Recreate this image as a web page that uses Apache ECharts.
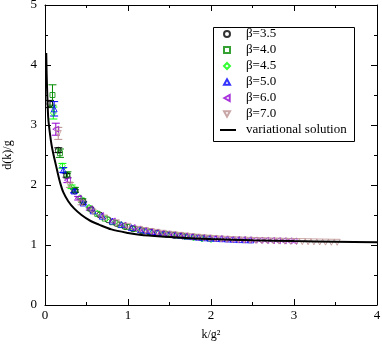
<!DOCTYPE html>
<html>
<head>
<meta charset="utf-8">
<script src="https://cdn.jsdelivr.net/npm/echarts@6/dist/echarts.min.js"></script>
<style>
  html, body { margin: 0; padding: 0; background: #fff; }
  #chart { width: 382px; height: 349px; }
</style>
</head>
<body>
<div id="chart"></div>
<script>
// beta = 3.5
var k35 = [0.06, 0.16, 0.26, 0.36, 0.46, 0.56, 0.66, 0.76, 0.86, 0.96, 1.06, 1.16, 1.26, 1.36, 1.46, 1.56, 1.66];
var d35 = [3.35, 2.58, 2.16, 1.90, 1.72, 1.59, 1.50, 1.42, 1.36, 1.31, 1.27, 1.24, 1.22, 1.20, 1.18, 1.16, 1.15];
var e35 = [0.06, 0.04, 0.03, 0.02];
// beta = 4.0
var k40 = [0.09, 0.18, 0.27, 0.36, 0.45, 0.54, 0.63, 0.72, 0.81, 0.90, 0.99, 1.08, 1.17, 1.26, 1.35, 1.44, 1.53, 1.62, 1.71, 1.80, 1.89, 1.98];
var d40 = [3.50, 2.53, 2.17, 1.92, 1.74, 1.61, 1.52, 1.44, 1.38, 1.34, 1.30, 1.27, 1.24, 1.22, 1.20, 1.18, 1.17, 1.155, 1.14, 1.13, 1.12, 1.11];
var e40 = [0.17, 0.07, 0.05, 0.04, 0.03];
// beta = 4.5
var k45 = [0.10, 0.21, 0.32, 0.42, 0.53, 0.63, 0.74, 0.84, 0.95, 1.05, 1.16, 1.26, 1.37, 1.47, 1.58, 1.68, 1.79, 1.89, 2.00];
var d45 = [3.20, 2.32, 1.97, 1.79, 1.63, 1.53, 1.44, 1.38, 1.32, 1.28, 1.25, 1.22, 1.20, 1.18, 1.16, 1.14, 1.12, 1.10, 1.09];
var e45 = [0.10, 0.04, 0.03];
// beta = 5.0
var k50 = [0.11, 0.22, 0.35, 0.46, 0.58, 0.69, 0.81, 0.92, 1.04, 1.15, 1.22, 1.29, 1.36, 1.43, 1.50, 1.57, 1.64, 1.71, 1.78, 1.85, 1.92, 1.99, 2.06, 2.13, 2.20, 2.27, 2.34, 2.41, 2.48];
var d50 = [3.27, 2.25, 1.90, 1.70, 1.57, 1.48, 1.40, 1.34, 1.29, 1.255, 1.24, 1.225, 1.21, 1.195, 1.185, 1.17, 1.16, 1.15, 1.14, 1.13, 1.12, 1.115, 1.11, 1.105, 1.10, 1.095, 1.09, 1.088, 1.085];
var e50 = [0.12, 0.04, 0.03, 0.02];
// beta = 6.0
var k60 = [0.13, 0.27, 0.40, 0.54, 0.67, 0.81, 0.94, 1.05, 1.12, 1.19, 1.26, 1.33, 1.40, 1.47, 1.54, 1.61, 1.68, 1.75, 1.82, 1.89, 1.96, 2.03, 2.10, 2.17, 2.24, 2.31, 2.38, 2.45, 2.52, 2.59, 2.66, 2.73, 2.80, 2.87, 2.94, 3.00];
var d60 = [2.93, 2.08, 1.78, 1.60, 1.49, 1.40, 1.33, 1.29, 1.265, 1.245, 1.225, 1.21, 1.195, 1.18, 1.17, 1.16, 1.15, 1.14, 1.13, 1.125, 1.115, 1.11, 1.105, 1.10, 1.095, 1.09, 1.088, 1.085, 1.082, 1.08, 1.078, 1.075, 1.072, 1.07, 1.068, 1.066];
var e60 = [0.10, 0.04, 0.03, 0.02];
// beta = 7.0
var k70 = [0.16, 0.30, 0.44, 0.58, 0.72, 0.86, 1.00, 1.14, 1.21, 1.28, 1.35, 1.42, 1.49, 1.56, 1.63, 1.70, 1.77, 1.84, 1.91, 1.98, 2.05, 2.12, 2.19, 2.26, 2.33, 2.40, 2.47, 2.54, 2.61, 2.68, 2.75, 2.82, 2.89, 2.96, 3.03, 3.10, 3.17, 3.24, 3.31, 3.38, 3.45, 3.52];
var d70 = [2.86, 2.00, 1.70, 1.55, 1.45, 1.37, 1.31, 1.26, 1.24, 1.225, 1.21, 1.195, 1.18, 1.17, 1.16, 1.15, 1.14, 1.13, 1.12, 1.115, 1.108, 1.10, 1.095, 1.09, 1.086, 1.082, 1.078, 1.075, 1.072, 1.07, 1.067, 1.065, 1.062, 1.06, 1.058, 1.056, 1.054, 1.052, 1.05, 1.048, 1.046, 1.045];
var e70 = [0.10, 0.04, 0.03];
// variational solution
var kv = [0.015, 0.02, 0.03, 0.04, 0.06, 0.08, 0.10, 0.12, 0.15, 0.18, 0.22, 0.28, 0.35, 0.44, 0.55, 0.65, 0.80, 1.00, 1.14, 1.40, 1.70, 2.00, 2.50, 3.00, 3.50, 4.00];
var dv = [4.20, 3.85, 3.40, 3.10, 2.85, 2.66, 2.52, 2.40, 2.22, 2.05, 1.88, 1.73, 1.61, 1.50, 1.40, 1.34, 1.26, 1.20, 1.17, 1.14, 1.115, 1.10, 1.08, 1.065, 1.055, 1.047];

var xTicks = [0, 1, 2, 3, 4];
var yTicks = [0, 1, 2, 3, 4, 5];

// grace-style open symbols
var triUp = 'path://M5,0L10,9L0,9Z';
var triLeft = 'path://M0,5L9,0L9,10Z';
var triDown = 'path://M0,0L10,0L5,9Z';

var sets = [
    { name: 'β=3.5', k: k35, d: d35, e: e35, color: '#000000', symbol: 'circle' },
    { name: 'β=4.0', k: k40, d: d40, e: e40, color: '#008b00', symbol: 'rect' },
    { name: 'β=4.5', k: k45, d: d45, e: e45, color: '#00ff00', symbol: 'diamond' },
    { name: 'β=5.0', k: k50, d: d50, e: e50, color: '#0000ff', symbol: triUp },
    { name: 'β=6.0', k: k60, d: d60, e: e60, color: '#9400d3', symbol: triLeft },
    { name: 'β=7.0', k: k70, d: d70, e: e70, color: '#bc8f8f', symbol: triDown }
];

var font = '"Liberation Serif", "DejaVu Serif", serif';

function errorBars(color) {
    return function (params, api) {
        var x = api.value(0), y = api.value(1), e = api.value(2);
        var top = api.coord([x, y + e]);
        var bot = api.coord([x, y - e]);
        var w = 4;
        var style = { stroke: color, lineWidth: 1 };
        return {
            type: 'group',
            children: [
                { type: 'line', shape: { x1: top[0], y1: top[1], x2: bot[0], y2: bot[1] }, style: style },
                { type: 'line', shape: { x1: top[0] - w, y1: top[1], x2: top[0] + w, y2: top[1] }, style: style },
                { type: 'line', shape: { x1: bot[0] - w, y1: bot[1], x2: bot[0] + w, y2: bot[1] }, style: style }
            ]
        };
    };
}

var series = [];
sets.forEach(function (s) {
    var pts = [], bars = [];
    for (var i = 0; i < s.k.length; i++) {
        pts.push([s.k[i], s.d[i]]);
        if (i < s.e.length) bars.push([s.k[i], s.d[i], s.e[i]]);
    }
    series.push({
        name: s.name + ' err',
        type: 'custom',
        renderItem: errorBars(s.color),
        data: bars,
        silent: true,
        z: 2
    });
    series.push({
        name: s.name,
        type: 'scatter',
        symbol: s.symbol,
        symbolSize: s.symbol === 'rect' ? 5 : 6,
        itemStyle: { color: 'rgba(255,255,255,0)', borderColor: s.color, borderWidth: 1 },
        data: pts,
        z: 3
    });
});

var line = [];
for (var j = 0; j < kv.length; j++) line.push([kv[j], dv[j]]);
series.push({
    name: 'variational solution',
    type: 'line',
    data: line,
    symbol: 'none',
    smooth: 0.3,
    lineStyle: { color: '#000', width: 2 },
    itemStyle: { color: '#000' },
    z: 4
});

var legendText = { fontFamily: font, fontSize: 13, color: '#000', lineHeight: 16 };

function sideAxis(pos) {
    return {
        type: 'value',
        position: pos,
        min: 0,
        max: pos === 'top' ? xTicks[xTicks.length - 1] : yTicks[yTicks.length - 1],
        interval: 1,
        axisLine: { show: true, onZero: false, lineStyle: { color: '#000', width: 1 } },
        axisTick: { inside: true, length: 6, lineStyle: { color: '#000' } },
        minorTick: { show: true, splitNumber: 2, length: 3, lineStyle: { color: '#000' } },
        axisLabel: { show: false },
        splitLine: { show: false }
    };
}

var chart = echarts.init(document.getElementById('chart'));
chart.setOption({
    animation: false,
    backgroundColor: '#fff',
    textStyle: { fontFamily: font },
    grid: { left: 45, right: 5, top: 5, bottom: 44, containLabel: false, outerBoundsMode: 'none' },
    graphic: [{
        type: 'rect',
        left: 211,
        top: 25,
        shape: { width: 141, height: 114 },
        style: { fill: 'none', stroke: '#000', lineWidth: 1 },
        z: 10
    }],
    legend: [{
        data: sets.map(function (s) { return s.name; }),
        orient: 'vertical',
        left: 223,
        top: 26,
        padding: 0,
        itemGap: 0,
        itemWidth: 6,
        itemHeight: 6,
        textStyle: Object.assign({ padding: [0, 0, 0, 11] }, legendText),
        selectedMode: false
    }, {
        data: [{ name: 'variational solution', itemStyle: { opacity: 0 } }],
        orient: 'vertical',
        left: 219,
        top: 122,
        padding: 0,
        itemWidth: 16,
        itemHeight: 6,
        textStyle: Object.assign({ padding: [0, 0, 0, 5] }, legendText),
        selectedMode: false
    }],
    xAxis: [{
        type: 'value',
        min: xTicks[0],
        max: xTicks[xTicks.length - 1],
        interval: 1,
        name: 'k/g²',
        nameLocation: 'middle',
        nameGap: 24,
        nameTextStyle: { fontFamily: font, fontSize: 12, color: '#000' },
        axisLine: { show: true, onZero: false, lineStyle: { color: '#000', width: 1 } },
        axisTick: { inside: true, length: 6, lineStyle: { color: '#000' } },
        minorTick: { show: true, splitNumber: 2, length: 3, lineStyle: { color: '#000' } },
        axisLabel: { fontFamily: font, fontSize: 13, color: '#000', margin: 4 },
        splitLine: { show: false }
    }, sideAxis('top')],
    yAxis: [{
        type: 'value',
        min: yTicks[0],
        max: yTicks[yTicks.length - 1],
        interval: 1,
        name: 'd(k)/g',
        nameLocation: 'middle',
        nameGap: 31,
        nameTextStyle: { fontFamily: font, fontSize: 12, color: '#000' },
        axisLine: { show: true, onZero: false, lineStyle: { color: '#000', width: 1 } },
        axisTick: { inside: true, length: 6, lineStyle: { color: '#000' } },
        minorTick: { show: true, splitNumber: 2, length: 3, lineStyle: { color: '#000' } },
        axisLabel: { fontFamily: font, fontSize: 13, color: '#000', margin: 8 },
        splitLine: { show: false }
    }, sideAxis('right')],
    series: series
});
</script>
</body>
</html>
